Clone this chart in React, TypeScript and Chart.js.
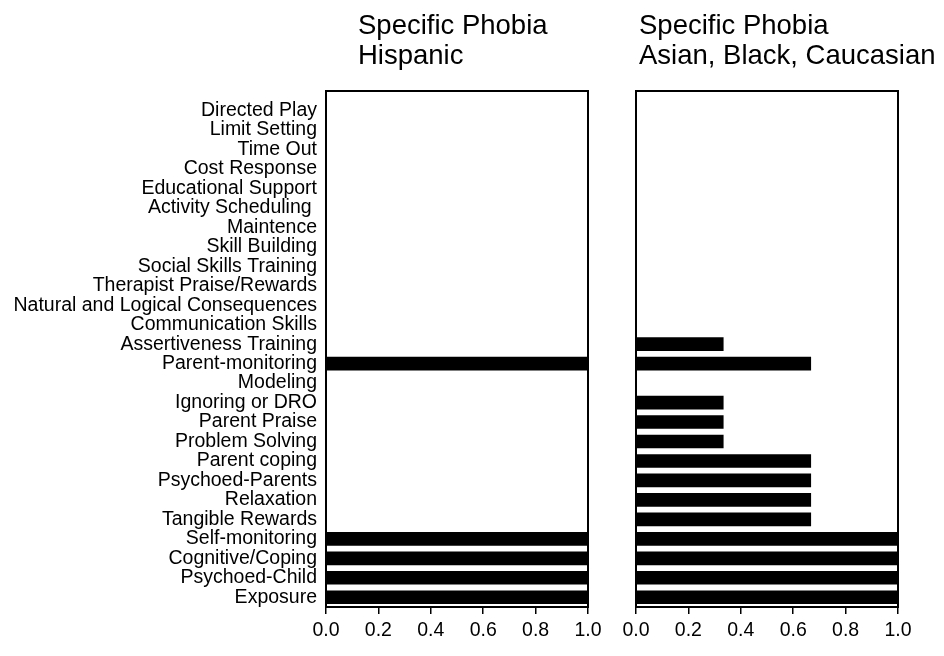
import React, { useEffect, useRef } from "react";
import { Chart, registerables } from "chart.js";

Chart.register(...registerables);

// Categories, top to bottom
const categories = [
  "Directed Play",
  "Limit Setting",
  "Time Out",
  "Cost Response",
  "Educational Support",
  "Activity Scheduling ",
  "Maintence",
  "Skill Building",
  "Social Skills Training",
  "Therapist Praise/Rewards",
  "Natural and Logical Consequences",
  "Communication Skills",
  "Assertiveness Training",
  "Parent-monitoring",
  "Modeling",
  "Ignoring or DRO",
  "Parent Praise",
  "Problem Solving",
  "Parent coping",
  "Psychoed-Parents",
  "Relaxation",
  "Tangible Rewards",
  "Self-monitoring",
  "Cognitive/Coping",
  "Psychoed-Child",
  "Exposure",
];

const hispanicValues = [
  0, 0, 0, 0, 0, 0, 0, 0, 0, 0, 0, 0, 0,
  1, 0, 0, 0, 0, 0, 0, 0, 0,
  1, 1, 1, 1,
];

const otherValues = [
  0, 0, 0, 0, 0, 0, 0, 0, 0, 0, 0, 0,
  0.333, 0.667, 0, 0.333, 0.333, 0.333, 0.667, 0.667, 0.667, 0.667,
  1, 1, 1, 1,
];

const xTickValues = [0, 0.2, 0.4, 0.6, 0.8, 1.0];

const titleLeft = ["Specific Phobia", "Hispanic"];
const titleRight = ["Specific Phobia", "Asian, Black, Caucasian"];

const FONT = "'Liberation Sans', Arial, Helvetica, sans-serif";

const panelPlugin = {
  id: "panel",
  afterDraw(chart: any, _args: any, opts: any) {
    const { ctx, chartArea: a } = chart;
    ctx.save();
    ctx.strokeStyle = "#000";
    ctx.lineWidth = 2;
    ctx.strokeRect(a.left, a.top, a.right - a.left, a.bottom - a.top);
    ctx.fillStyle = "#000";
    ctx.font = `27.5px ${FONT}`;
    ctx.textAlign = "left";
    ctx.textBaseline = "middle";
    (opts.lines || []).forEach((l: string, i: number) => {
      ctx.fillText(l, opts.x, 26 + i * 30);
    });
    ctx.restore();
  },
};

function makeConfig(
  values: number[],
  showLabels: boolean,
  leftEdge: number,
  rightPad: number,
  lines: string[],
  titleX: number
): any {
  const n = categories.length;
  return {
    type: "bar",
    data: {
      datasets: [
        {
          data: values.map((v, i) => ({ x: v, y: n - 1 - i })),
          backgroundColor: "#000",
          borderWidth: 0,
          barThickness: 13,
        },
      ],
    },
    plugins: [panelPlugin],
    options: {
      indexAxis: "y",
      animation: false,
      responsive: false,
      events: [],
      layout: { padding: { top: 91, right: rightPad, left: 0, bottom: 0 } },
      plugins: {
        legend: { display: false },
        tooltip: { enabled: false },
        title: { display: false },
        panel: { lines, x: titleX },
      },
      scales: {
        x: {
          type: "linear",
          position: "bottom",
          min: 0,
          max: 1,
          offset: false,
          afterBuildTicks: (s: any) => {
            s.ticks = xTickValues.map((v) => ({ value: v }));
          },
          afterFit: (s: any) => {
            s.height = 49;
          },
          ticks: {
            color: "#000",
            font: { family: FONT, size: 19.5 },
            padding: 5,
            callback: (v: any) => Number(v).toFixed(1),
          },
          grid: {
            display: true,
            drawOnChartArea: false,
            drawTicks: true,
            tickLength: 7,
            color: "#000",
            lineWidth: 1.5,
          },
          border: { display: true, color: "#000", width: 2 },
        },
        y: {
          type: "linear",
          position: "left",
          min: -0.5,
          max: 26.0,
          offset: false,
          afterBuildTicks: (s: any) => {
            s.ticks = categories.map((_, i) => ({ value: i }));
          },
          afterFit: (s: any) => {
            s.width = leftEdge;
          },
          ticks: {
            display: showLabels,
            autoSkip: false,
            color: "#000",
            font: { family: FONT, size: 19.5 },
            padding: 9,
            callback: (v: any) => categories[n - 1 - Number(v)],
          },
          grid: { display: false, drawTicks: false, offset: false },
          border: { display: true, color: "#000", width: 2 },
        },
      },
    },
  };
}

function Panel(props: {
  values: number[];
  showLabels: boolean;
  leftEdge: number;
  rightPad: number;
  lines: string[];
  titleX: number;
}) {
  const ref = useRef<HTMLCanvasElement | null>(null);
  useEffect(() => {
    if (!ref.current) return;
    const chart = new Chart(
      ref.current,
      makeConfig(
        props.values,
        props.showLabels,
        props.leftEdge,
        props.rightPad,
        props.lines,
        props.titleX
      )
    );
    return () => chart.destroy();
  }, []);
  return (
    <canvas
      ref={ref}
      width={944}
      height={656}
      style={{ position: "absolute", left: 0, top: 0, width: 944, height: 656 }}
    />
  );
}

export default function App() {
  return (
    <div
      style={{
        position: "absolute",
        left: 0,
        top: 0,
        width: 944,
        height: 656,
        background: "#fff",
        overflow: "hidden",
      }}
    >
      <Panel
        values={hispanicValues}
        showLabels={true}
        leftEdge={326}
        rightPad={944 - 588}
        lines={titleLeft}
        titleX={358}
      />
      <Panel
        values={otherValues}
        showLabels={false}
        leftEdge={636}
        rightPad={944 - 898}
        lines={titleRight}
        titleX={639}
      />
    </div>
  );
}
